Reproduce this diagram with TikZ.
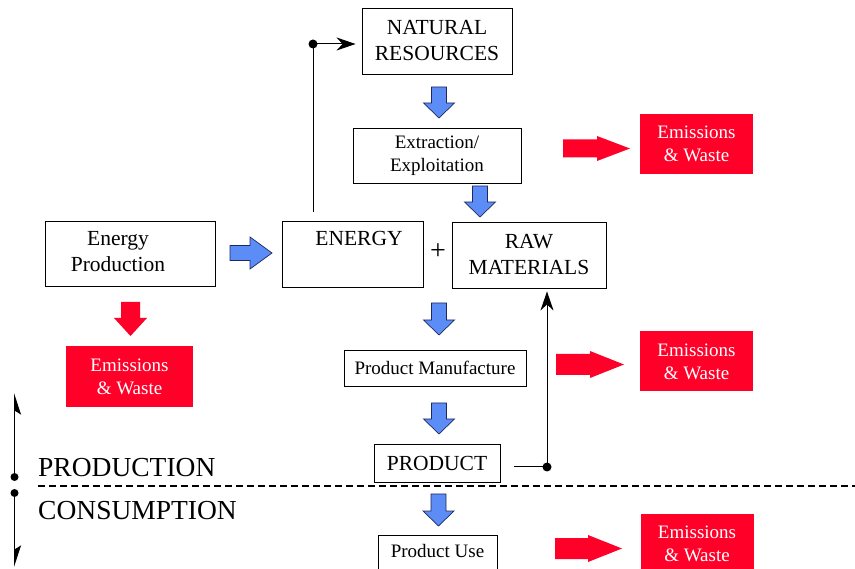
\documentclass[tikz,border=0pt]{standalone}
\usepackage{fontspec}
\setmainfont{Liberation Serif}
\usetikzlibrary{arrows.meta}
\definecolor{emred}{RGB}{255,0,40}
\definecolor{flowblue}{RGB}{92,141,246}
\definecolor{flowedge}{RGB}{30,40,95}

\begin{document}
\begin{tikzpicture}[x=1pt, y=-1pt,
    box/.style={draw, line width=0.9pt, inner sep=0pt, align=center, font=\fontsize{19}{23}\selectfont},
    capbox/.style={box, font=\fontsize{21.5}{26}\selectfont},
    emis/.style={fill=emred, text=white, inner sep=0pt, align=center, minimum width=113pt, minimum height=60pt, font=\fontsize{19}{23}\selectfont},
    blue arrow/.style={fill=flowblue, draw=flowedge, line width=0.7pt},
    red arrow/.style={fill=emred},
    link/.style={line width=1pt, -{Stealth[length=19pt, width=13pt, inset=6pt]}},
    half/.style={line width=1pt, -{Stealth[harpoon, #1, length=20pt, width=13pt, inset=4pt]}},
    pics/blockarrow/.style n args={4}{code={
      \path[pic actions] (0,-#3/2) -- (#1-#2,-#3/2) -- (#1-#2,-#4/2) -- (#1,0)
        -- (#1-#2,#4/2) -- (#1-#2,#3/2) -- (0,#3/2) -- cycle;}}]
    \useasboundingbox (0,0) rectangle (855,569);

    \node[capbox, minimum width=150pt, minimum height=66pt] (natres) at (437,41) {NATURAL\\RESOURCES};
    \node[box, minimum width=168pt, minimum height=55pt] (extract) at (437,155.5) {Extraction/\\Exploitation};
    \node[capbox, minimum width=170pt, minimum height=65pt] (eprod) at (130,253.5)
      {\begin{tabular}{@{}c@{}}Energy\\Production\end{tabular}\hspace{24pt}};
    \node[capbox, minimum width=141pt, text height=25pt, text depth=41pt] (energy) at (352.5,254) {\hspace*{13pt}ENERGY};
    \node[inner sep=0pt, font=\fontsize{28}{30}\selectfont] (plus) at (438,252) {+};
    \node[capbox, minimum width=154pt, minimum height=66pt] (raw) at (529,255) {RAW\\MATERIALS};
    \node[box, minimum width=182pt, minimum height=36pt] (manuf) at (435,368) {Product Manufacture};
    \node[capbox, minimum width=126pt, minimum height=38pt] (product) at (437,463) {PRODUCT};
    \node[box, minimum width=119pt, text height=22pt, text depth=30pt, anchor=north] (use) at (437.5,535) {Product Use};

    \node[emis] (em1) at (696.5,144) {Emissions\\\& Waste};
    \node[emis, minimum width=127pt, minimum height=61pt] (em2) at (129.5,376.5) {Emissions\\\& Waste};
    \node[emis] (em3) at (696.5,361.5) {Emissions\\\& Waste};
    \node[emis] (em4) at (697,544) {Emissions\\\& Waste};

    % blue flow arrows
    \pic[blue arrow, rotate=-90] at (439,87) {blockarrow={31}{15}{15}{31}};
    \pic[blue arrow, rotate=-90] at (480,186) {blockarrow={31}{15}{15}{31}};
    \pic[blue arrow, rotate=-90] at (439,303) {blockarrow={32}{15}{15}{31}};
    \pic[blue arrow, rotate=-90] at (439,403) {blockarrow={31}{15}{15}{31}};
    \pic[blue arrow, rotate=-90] at (438.5,494) {blockarrow={32}{15}{15}{31}};
    \pic[blue arrow] at (230,253) {blockarrow={42}{22}{15}{32}};

    % red emission arrows
    \pic[red arrow, rotate=-90] at (130.5,302) {blockarrow={34}{18}{19}{33}};
    \pic[red arrow] at (563,148.5) {blockarrow={67}{33}{18}{25}};
    \pic[red arrow] at (556,364.5) {blockarrow={68}{34}{21}{27}};
    \pic[red arrow] at (555,548.5) {blockarrow={67}{34}{21}{27}};

    \coordinate (e0) at (313,212);
    \coordinate (e1) at (313,44);
    \draw[link, shorten >=6pt] (e0) -- (e1) -- (e1 -| natres.west);
    \fill (e1) circle[radius=4.5pt];

    \coordinate (p0) at (514,467);
    \coordinate (p1) at (547,467);
    \draw[link, shorten >=3pt] (p0) -- (p1) -- (p1 |- raw.south);
    \fill (p1) circle[radius=4.5pt];

    \coordinate (ax1) at (14.5,477);
    \coordinate (ax2) at (14.5,493);
    \coordinate (axt) at (14.5,393);
    \coordinate (axb) at (14.5,567);
    \draw[half=swap] (ax1) -- (axt);
    \draw[half=] (ax2) -- (axb);
    \fill (ax1) circle[radius=4pt];
    \fill (ax2) circle[radius=4pt];

    \coordinate (dl) at (38,486);
    \coordinate (dr) at (855,486);
    \draw[line width=1.3pt, dash pattern=on 7pt off 4pt] (dl) -- (dr);

    \node[anchor=base west, inner sep=0pt, font=\fontsize{27.5}{30}\selectfont] (prodlbl) at (38,477) {PRODUCTION};
    \node[anchor=base west, inner sep=0pt, font=\fontsize{27.5}{30}\selectfont] (conslbl) at (38,519) {CONSUMPTION};
\end{tikzpicture}
\end{document}
